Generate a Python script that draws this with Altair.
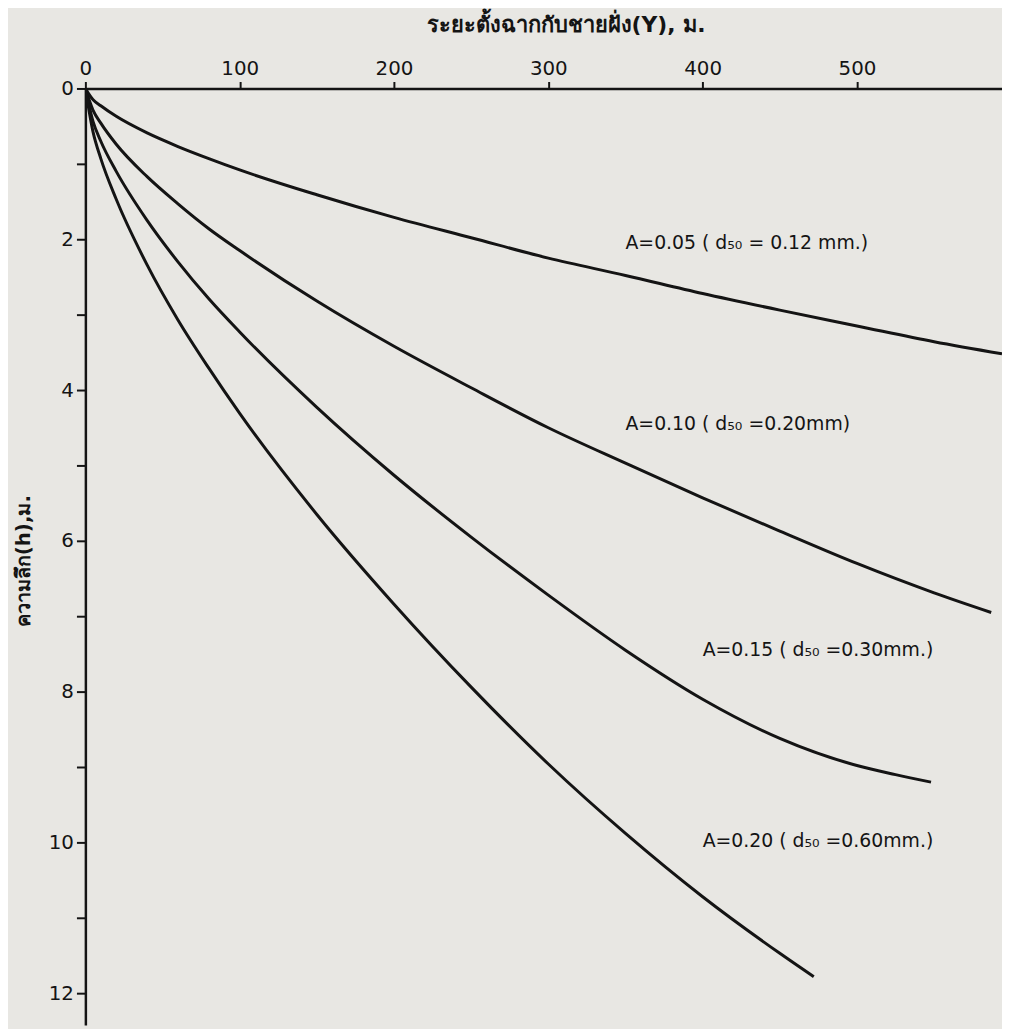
import altair as alt
import pandas as pd

# ---- data ----
y_a05 = [0, 5, 10, 20, 40, 60, 80, 100, 150, 200, 250, 300, 350, 400, 450, 500, 550, 594]
h_a05 = [0, 0.15, 0.23, 0.37, 0.59, 0.77, 0.93, 1.08, 1.41, 1.71, 1.98, 2.25, 2.48, 2.72, 2.94, 3.15, 3.36, 3.52]

y_a10 = [0, 5, 10, 20, 40, 60, 80, 100, 150, 200, 250, 300, 350, 400, 450, 500, 550, 587]
h_a10 = [0, 0.29, 0.46, 0.74, 1.17, 1.53, 1.86, 2.15, 2.82, 3.42, 3.97, 4.50, 4.97, 5.43, 5.87, 6.30, 6.69, 6.95]

y_a15 = [0, 5, 10, 20, 40, 60, 80, 100, 150, 200, 250, 300, 350, 400, 450, 500, 525, 548]
h_a15 = [0, 0.44, 0.70, 1.10, 1.75, 2.30, 2.79, 3.23, 4.23, 5.13, 5.95, 6.72, 7.45, 8.10, 8.62, 8.98, 9.10, 9.20]

y_a20 = [0, 5, 10, 20, 40, 60, 80, 100, 150, 200, 250, 300, 350, 400, 450, 472]
h_a20 = [0, 0.58, 0.93, 1.47, 2.34, 3.07, 3.71, 4.31, 5.65, 6.84, 7.94, 8.96, 9.88, 10.72, 11.47, 11.78]

series_names = ["A=0.05", "A=0.10", "A=0.15", "A=0.20"]

label_texts = [
    "A=0.05 ( d₅₀ = 0.12 mm.)",
    "A=0.10 ( d₅₀ =0.20mm)",
    "A=0.15 ( d₅₀ =0.30mm.)",
    "A=0.20 ( d₅₀ =0.60mm.)",
]
label_y = [350, 350, 400, 400]
label_h = [2.05, 4.45, 7.45, 9.98]

x_ticks = [0, 100, 200, 300, 400, 500]
h_ticks = [0, 1, 2, 3, 4, 5, 6, 7, 8, 9, 10, 11, 12]

x_title = "ระยะตั้งฉากกับชายฝั่ง(Y), ม."
h_title = "ความลึก(h),ม."

# ---- build tables ----
rows = []
for name, ys, hs in zip(series_names, [y_a05, y_a10, y_a15, y_a20], [h_a05, h_a10, h_a15, h_a20]):
    for i, (yy, hh) in enumerate(zip(ys, hs)):
        rows.append({"series": name, "order": i, "y": yy, "h": hh})
curves = pd.DataFrame(rows)
labels = pd.DataFrame({"text": label_texts, "y": label_y, "h": label_h})

FONT = "DejaVu Sans, Noto Sans, sans-serif"
INK = "#141414"

x_scale = alt.Scale(domain=[0, 594], nice=False, zero=False)
h_scale = alt.Scale(domain=[0, 12.42], nice=False, reverse=True, zero=False)

x_enc = alt.X(
    "y:Q",
    scale=x_scale,
    axis=alt.Axis(
        orient="top",
        values=x_ticks,
        format="d",
        title=x_title,
        titleFontSize=22,
        titleFont=FONT,
        titleFontWeight="bold",
        titleColor=INK,
        titleX=484,
        titleY=-52,
        titleAnchor="middle",
        labelFontSize=20,
        labelFont=FONT,
        labelColor=INK,
        labelPadding=3,
        tickSize=7,
        tickWidth=2,
        tickColor=INK,
        domainWidth=2.5,
        domainColor=INK,
        grid=False,
        labelFlush=False,
    ),
)
h_enc = alt.Y(
    "h:Q",
    scale=h_scale,
    axis=alt.Axis(
        orient="left",
        values=h_ticks,
        format="d",
        labelExpr="datum.value % 2 == 0 ? datum.label : ''",
        title=h_title,
        titleFontSize=20,
        titleFont=FONT,
        titleFontWeight="bold",
        titleColor=INK,
        titleX=-52,
        titleY=476,
        titleAnchor="middle",
        labelFontSize=20,
        labelFont=FONT,
        labelColor=INK,
        labelPadding=3,
        tickSize=9,
        tickWidth=2,
        tickColor=INK,
        domainWidth=2.5,
        domainColor=INK,
        grid=False,
        labelFlush=False,
    ),
)

lines = alt.Chart(curves).mark_line(
    color=INK, strokeWidth=3, clip=True, interpolate="monotone"
).encode(
    x=x_enc,
    y=h_enc,
    detail="series:N",
    order="order:Q",
)

texts = alt.Chart(labels).mark_text(
    align="left", baseline="middle", fontSize=19, font=FONT, color=INK
).encode(
    x=alt.X("y:Q", scale=x_scale),
    y=alt.Y("h:Q", scale=h_scale),
    text="text:N",
)

chart = (
    alt.layer(lines, texts)
    .properties(
        width=924,
        height=944,
        autosize=alt.AutoSizeParams(type="none"),
        padding={"left": 78, "top": 77, "right": 0, "bottom": 0},
        background="#e8e7e3",
    )
    .configure_view(strokeWidth=0)
)

chart.save("out.html", embed_options={"renderer": "svg", "actions": False})
